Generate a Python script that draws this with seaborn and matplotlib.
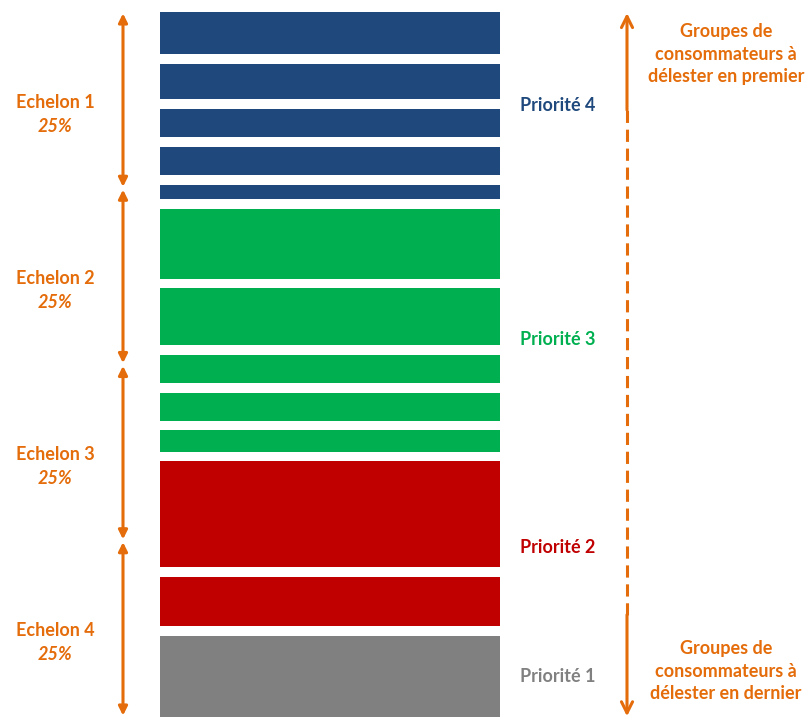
import matplotlib
matplotlib.use("Agg")
import matplotlib.pyplot as plt
import numpy as np
import seaborn as sns

# load blocks, from top to bottom: priority group and share of total load (%)
block_prio = ["Priorité 4"] * 5 + ["Priorité 3"] * 5 + ["Priorité 2"] * 2 + ["Priorité 1"]
block_share = [6.67, 6.38, 5.39, 5.39, 3.40,
               11.28, 9.43, 5.39, 5.32, 4.40,
               16.38, 8.37,
               12.20]

echelons = ["Echelon 1", "Echelon 2", "Echelon 3", "Echelon 4"]
echelon_share = [25, 25, 25, 25]

prio_names = ["Priorité 4", "Priorité 3", "Priorité 2", "Priorité 1"]
prio_colors = {"Priorité 4": "#1F497D", "Priorité 3": "#00B050",
               "Priorité 2": "#C00000", "Priorité 1": "#808080"}
prio_label_y = [86.8, 53.6, 24.1, 5.7]

top_text = "Groupes de\nconsommateurs à\ndélester en premier"
bottom_text = "Groupes de\nconsommateurs à\ndélester en dernier"

orange = "#E46C0A"
fs = 13

sns.set_style("white")
plt.rcParams["font.family"] = ["Lato", "DejaVu Sans"]
plt.rcParams["font.weight"] = "bold"

fig = plt.figure(figsize=(8.07, 7.17), dpi=100)
ax = fig.add_axes([0, 0, 1, 705 / 717])
ax.set_xlim(0, 807)
ax.set_ylim(0, 100)
ax.axis("off")

# stacked blocks with white gaps between them
gap = 1.3
shares = np.array(block_share)
tops = 100 - np.concatenate([[0], np.cumsum(shares)[:-1]])
bottoms = tops - shares
for prio, top, bot in zip(block_prio, tops, bottoms):
    lo = bot + (gap / 2 if bot > 0.01 else 0)
    hi = top - (gap / 2 if top < 99.99 else 0)
    ax.bar(330, hi - lo, bottom=lo, width=340, color=prio_colors[prio], linewidth=0)

for prio, y in zip(prio_names, prio_label_y):
    ax.text(520, y, prio, color=prio_colors[prio], fontsize=fs,
            fontweight="bold", ha="left", va="center")

# echelons on the left
ech_top = 100 - np.concatenate([[0], np.cumsum(echelon_share)[:-1]])
for name, top, share in zip(echelons, ech_top, echelon_share):
    bot = top - share
    ax.annotate("", xy=(123, top - 0.2), xytext=(123, bot + 0.2),
                arrowprops=dict(arrowstyle="<|-|>", color=orange, lw=2.2,
                                mutation_scale=13, shrinkA=0, shrinkB=0),
                annotation_clip=False)
    mid = (top + bot) / 2 - 2.0
    ax.text(55, mid + 1.7, name, color=orange, fontsize=fs, fontweight="bold",
            ha="center", va="center")
    ax.text(55, mid - 1.7, f"{share}%", color=orange, fontsize=fs,
            fontweight="bold", style="italic", ha="center", va="center")

# right-hand arrow: solid ends, dashed middle
dash_top, dash_bot = 86.1, 14.5
ax.annotate("", xy=(627, 99.85), xytext=(627, dash_top),
            arrowprops=dict(arrowstyle="->", color=orange, lw=2.2,
                            mutation_scale=20, shrinkA=0, shrinkB=0),
            annotation_clip=False)
ax.annotate("", xy=(627, 0.1), xytext=(627, dash_bot),
            arrowprops=dict(arrowstyle="->", color=orange, lw=2.2,
                            mutation_scale=20, shrinkA=0, shrinkB=0),
            annotation_clip=False)
ax.plot([627, 627], [dash_bot, dash_top], color=orange, lw=2.2,
        dashes=(4, 2.2), solid_capstyle="butt")

ax.text(726, 94.0, top_text, color=orange, fontsize=fs, fontweight="bold",
        ha="center", va="center", linespacing=1.38)
ax.text(726, 6.5, bottom_text, color=orange, fontsize=fs, fontweight="bold",
        ha="center", va="center", linespacing=1.38)

fig.savefig("out.png", dpi=100, facecolor="white")
